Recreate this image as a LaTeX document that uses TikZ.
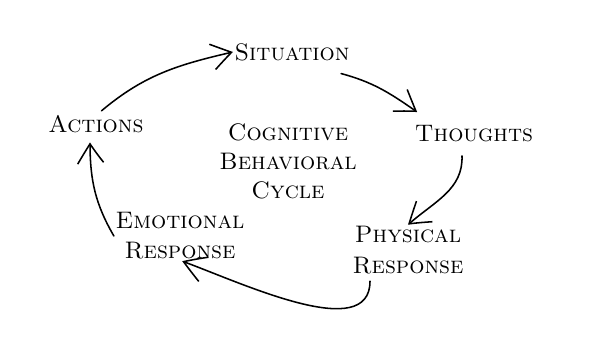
\documentclass[tikz,border=0pt]{standalone}
\usetikzlibrary{arrows.meta, bending}

\begin{document}
\begin{tikzpicture}[>={Straight Barb[length=5mm, width=6.5mm, bend]},
    stage/.style={align=center, font=\fontsize{17}{21.5}\selectfont\scshape, inner sep=1pt},
    cycarrow/.style={->, line width=1.1pt, line cap=round}]

    % 1. Frame of the picture
    \useasboundingbox (0,0) rectangle (15.05,8.55);

    % 2. The stages of the cycle
    \node[stage] (situation) at (7.3, 7.25)   {Situation};
    \node[stage] (thoughts)  at (11.85, 5.2)  {Thoughts};
    \node[stage] (physical)  at (10.2, 2.3)   {Physical\\Response};
    \node[stage] (emotional) at (4.5, 2.65)   {Emotional\\Response};
    \node[stage] (actions)   at (2.4, 5.45)   {Actions};

    % Title in the middle
    \node[stage, font=\fontsize{17}{20.5}\selectfont\scshape] (cycle) at (7.2, 4.52)
        {Cognitive\\Behavioral\\Cycle};

    % 3. Arrows going round
    \draw[cycarrow] ([yshift=2pt]actions.62) to[out=40, in=193] (situation.west);
    \draw[cycarrow] ([shift={(-0.25,-0.28)}]situation.south east)
        to[out=-15, in=145] ([shift={(0.1,0.3)}]thoughts.north west);
    \draw[cycarrow] ([shift={(-0.3,-0.3)}]thoughts.south) to[out=-88, in=42] (physical.north);
    \draw[cycarrow] ([shift={(-0.95,-0.15)}]physical.south)
        to[out=-90, in=-20, looseness=0.85] (emotional.-85);
    \draw[cycarrow] (emotional.west) to[out=120, in=-90] ([shift={(-0.15,-0.2)}]actions.south);

\end{tikzpicture}
\end{document}
